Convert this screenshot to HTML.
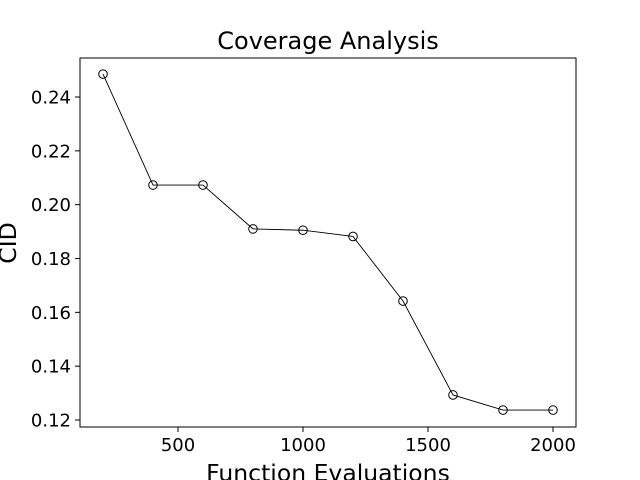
<!DOCTYPE html>
<html><head><meta charset="utf-8"><style>
body{margin:0;background:#fff}
svg{display:block;font-family:"DejaVu Sans","Liberation Sans",sans-serif}
</style></head><body>
<svg id="chart" width="640" height="480">
<rect width="640" height="480" fill="#fff"/>
<text x="328" y="49" font-size="24" text-anchor="middle">Coverage Analysis</text>
<g id="xticks"></g><g id="yticks"></g>
<polyline id="line" fill="none" stroke="#000" stroke-width="0.9"/>
<g id="pts"></g>
<rect x="80" y="58" width="496" height="369" fill="none" stroke="#000" stroke-width="1"/>
<text x="328" y="481" font-size="23.5" text-anchor="middle">Function Evaluations</text>
<text transform="translate(16,243) rotate(-90)" font-size="23.5" text-anchor="middle">CID</text>
</svg>
<script>
const evals=[200,400,600,800,1000,1200,1400,1600,1800,2000];
const cid=[0.2485,0.2073,0.2073,0.1910,0.1905,0.1882,0.1642,0.1293,0.1237,0.1237];
const xTicks=[500,1000,1500,2000];
const yTicks=[0.12,0.14,0.16,0.18,0.20,0.22,0.24];
const NS="http://www.w3.org/2000/svg";
function X(v){return 178+(v-500)*0.25;}
function Y(v){return 97+(0.24-v)*2691.7;}
const xg=document.getElementById('xticks'),yg=document.getElementById('yticks');
xTicks.forEach(t=>{
 const l=document.createElementNS(NS,'line');
 l.setAttribute('x1',X(t));l.setAttribute('x2',X(t));l.setAttribute('y1',427);l.setAttribute('y2',432);l.setAttribute('stroke','#000');
 
 
 xg.appendChild(l);
 const s=document.createElementNS(NS,'text');
 s.setAttribute('x',X(t));s.setAttribute('y',451);s.setAttribute('font-size','18');s.setAttribute('text-anchor','middle');s.textContent=t;
 
 
 xg.appendChild(s);
});
yTicks.forEach(t=>{
 const l=document.createElementNS(NS,'line');
 l.setAttribute('x1',75);l.setAttribute('x2',80);l.setAttribute('y1',Y(t));l.setAttribute('y2',Y(t));l.setAttribute('stroke','#000');
 
 
 yg.appendChild(l);
 const s=document.createElementNS(NS,'text');
 s.setAttribute('x',71);s.setAttribute('y',Y(t)+6.5);s.setAttribute('font-size','18');s.setAttribute('text-anchor','end');s.textContent=t.toFixed(2);
 
 
 yg.appendChild(s);
});
document.getElementById('line').setAttribute('points',evals.map((e,i)=>X(e)+','+Y(cid[i])).join(' '));
const pg=document.getElementById('pts');
evals.forEach((e,i)=>{
 const c=document.createElementNS(NS,'circle');
 c.setAttribute('cx',X(e));c.setAttribute('cy',Y(cid[i]));c.setAttribute('r',4.3);c.setAttribute('fill','none');c.setAttribute('stroke','#000');
 
 
 pg.appendChild(c);
});
</script>
</body></html>
